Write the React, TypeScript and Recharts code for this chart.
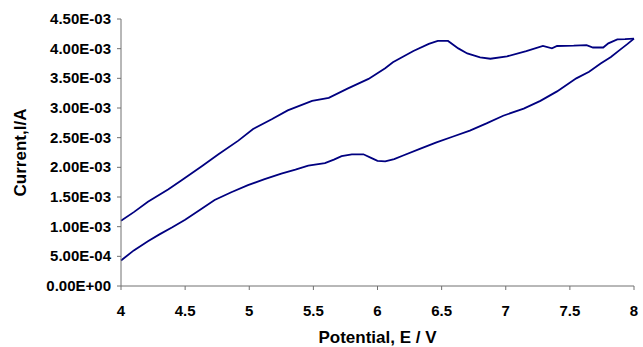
import { LineChart, Line, XAxis, YAxis } from "recharts"

// forward scan (4 V -> 8 V), current in mA
const forwardPotential = [
  4.0, 4.1, 4.21, 4.3, 4.4, 4.5, 4.62, 4.73, 4.86, 4.99, 5.12, 5.25, 5.36, 5.46, 5.59, 5.66, 5.72, 5.8, 5.89,
  5.95, 6.0, 6.06, 6.13, 6.2, 6.33, 6.46, 6.59, 6.72, 6.85, 6.98, 7.14, 7.27, 7.4, 7.55, 7.65, 7.74, 7.82, 7.89,
  7.95, 8.0,
]
const forwardCurrent = [
  0.43, 0.6, 0.755, 0.87, 0.99, 1.117, 1.29, 1.45, 1.58, 1.7, 1.8, 1.895, 1.96, 2.03, 2.07, 2.13, 2.19, 2.22,
  2.22, 2.16, 2.11, 2.1, 2.14, 2.2, 2.31, 2.42, 2.52, 2.62, 2.74, 2.87, 2.99, 3.12, 3.28, 3.5, 3.61, 3.75, 3.86,
  3.98, 4.08, 4.17,
]

// reverse scan (8 V -> 4 V)
const reversePotential = [
  8.0, 7.93, 7.87, 7.8, 7.76, 7.68, 7.63, 7.53, 7.4, 7.36, 7.29, 7.16, 7.01, 6.88, 6.8, 6.7, 6.63, 6.55, 6.47,
  6.4, 6.28, 6.12, 6.06, 5.93, 5.77, 5.62, 5.49, 5.3, 5.175, 5.03, 4.915, 4.76, 4.63, 4.47, 4.37, 4.21, 4.1, 4.0,
]
const reverseCurrent = [
  4.17, 4.16, 4.155, 4.09, 4.02, 4.02, 4.06, 4.05, 4.045, 4.005, 4.045, 3.96, 3.87, 3.83, 3.855, 3.92, 4.005,
  4.13, 4.13, 4.08, 3.96, 3.77, 3.67, 3.49, 3.33, 3.17, 3.12, 2.96, 2.81, 2.645, 2.45, 2.22, 2.02, 1.78, 1.63,
  1.42, 1.245, 1.1,
]

const xTicks = [4, 4.5, 5, 5.5, 6, 6.5, 7, 7.5, 8]
const yTicks = [0, 0.0005, 0.001, 0.0015, 0.002, 0.0025, 0.003, 0.0035, 0.004, 0.0045]

const forward = forwardPotential.map((x, i) => ({ x, y: forwardCurrent[i] / 1000 }))
const reverse = reversePotential.map((x, i) => ({ x, y: reverseCurrent[i] / 1000 }))

const fmtSci = (v: number) => {
  if (v === 0) return "0.00E+00"
  const exp = Math.floor(Math.log10(Math.abs(v)) + 1e-9)
  const mant = v / Math.pow(10, exp)
  const sign = exp < 0 ? "-" : "+"
  return `${mant.toFixed(2)}E${sign}${String(Math.abs(exp)).padStart(2, "0")}`
}

const font = "'Liberation Sans', Arial, sans-serif"
const lineColor = "#000080"
const axisColor = "#707070"

const XTick = (props: any) => {
  const { x, y, payload } = props
  return (
    <text x={x} y={y} dy={22} textAnchor="middle" fill="#000" fontSize={15} fontWeight="bold" fontFamily={font}>
      {payload.value}
    </text>
  )
}

const YTick = (props: any) => {
  const { x, y, payload } = props
  return (
    <text x={x} y={y} dy={5} textAnchor="end" fill="#000" fontSize={15} fontWeight="bold" fontFamily={font}>
      {fmtSci(payload.value)}
    </text>
  )
}

export default function App() {
  return (
    <div style={{ position: "absolute", left: 0, top: 0, background: "#fff" }}>
      <LineChart width={643} height={347} margin={{ top: 19, right: 9, left: 0, bottom: 0 }}>
        <XAxis
          dataKey="x"
          type="number"
          domain={[4, 8]}
          ticks={xTicks}
          allowDuplicatedCategory={false}
          height={61}
          stroke={axisColor}
          tickSize={4}
          tickMargin={4}
          tick={<XTick />}
          label={{
            value: "Potential, E / V",
            position: "insideBottom",
            offset: 4,
            style: { fill: "#000", fontSize: 17, fontWeight: "bold", fontFamily: font },
          }}
        />
        <YAxis
          dataKey="y"
          type="number"
          domain={[0, 0.0045]}
          ticks={yTicks}
          width={121}
          stroke={axisColor}
          tickSize={4}
          tickMargin={6}
          tick={<YTick />}
          label={{
            value: "Current,I/A",
            angle: -90,
            position: "insideLeft",
            offset: 20,
            style: { fill: "#000", fontSize: 17, fontWeight: "bold", fontFamily: font, textAnchor: "middle" },
          }}
        />
        <Line
          data={forward}
          dataKey="y"
          type="linear"
          stroke={lineColor}
          strokeWidth={1.8}
          dot={false}
          isAnimationActive={false}
        />
        <Line
          data={reverse}
          dataKey="y"
          type="linear"
          stroke={lineColor}
          strokeWidth={1.8}
          dot={false}
          isAnimationActive={false}
        />
      </LineChart>
    </div>
  )
}
